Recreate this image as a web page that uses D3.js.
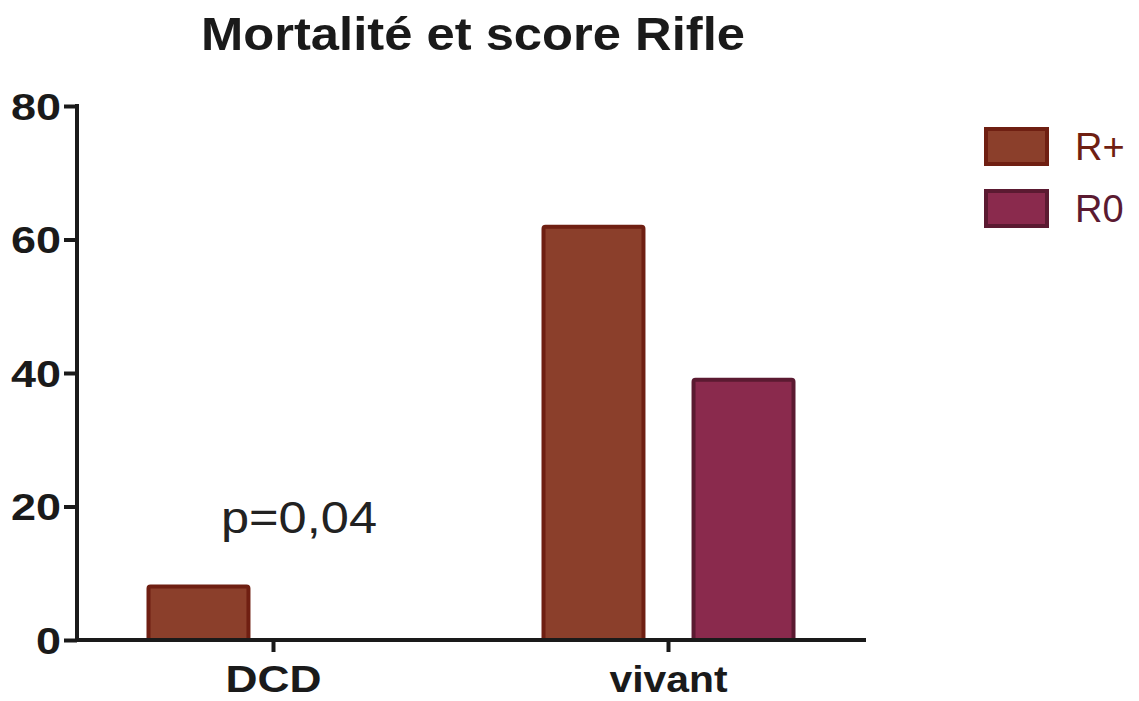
<!DOCTYPE html>
<html>
<head>
<meta charset="utf-8">
<script src="https://cdn.jsdelivr.net/npm/d3@7"></script>
<style>
  body { margin: 0; background: #fff; }
  text { font-family: "Liberation Sans", Arial, Helvetica, sans-serif; }
</style>
</head>
<body>
<svg id="chart" width="1139" height="701"></svg>
<script>
// chart values
var categories = ['DCD', 'vivant'];
var seriesNames = ['R+', 'R0'];
var valuesRplus = [8.3, 62.2];
var valuesR0 = [0, 39.3];
var yTicks = [0, 20, 40, 60, 80];

var fills = ['#8b3f2b', '#8a2a4d'];
var strokes = ['#6f1f12', '#5b1a31'];
var ink = '#1a1a1a';

var svg = d3.select('#chart');

var x = d3.scaleBand().domain(categories).range([76, 866]);
var y = d3.scaleLinear().domain([0, 80]).range([640, 106]);
var sub = d3.scaleBand().domain(seriesNames).range([-127, 127]).paddingInner(0.307).paddingOuter(0);

// the reference font is wider than Liberation, so stretch text to its measured width
function stretch(sel, perChar) {
  sel.attr('textLength', function() { return this.textContent.length * perChar; })
    .attr('lengthAdjust', 'spacingAndGlyphs');
}

svg.append('text')
  .attr('x', 201).attr('y', 50)
  .style('font-size', '47px').style('font-weight', 'bold')
  .attr('fill', ink)
  .attr('textLength', 544).attr('lengthAdjust', 'spacingAndGlyphs')
  .text('Mortalité et score Rifle');

// bars
var rows = categories.map(function(c, i) {
  return { cat: c, vals: [valuesRplus[i], valuesR0[i]] };
});

var group = svg.selectAll('g.grp').data(rows).enter().append('g')
  .attr('class', 'grp')
  .attr('transform', function(d) { return 'translate(' + (x(d.cat) + x.bandwidth() / 2) + ',0)'; });

group.selectAll('rect').data(function(d) {
  return d.vals.map(function(v, j) { return { v: v, j: j }; }).filter(function(e) { return e.v > 0; });
}).enter().append('rect')
  .attr('x', function(d) { return sub(seriesNames[d.j]) + 2; })
  .attr('width', sub.bandwidth() - 4)
  .attr('y', function(d) { return y(d.v) + 2; })
  .attr('height', function(d) { return y(0) - y(d.v) - 2; })
  .attr('rx', 2)
  .attr('fill', function(d) { return fills[d.j]; })
  .attr('stroke', function(d) { return strokes[d.j]; })
  .attr('stroke-width', 4);

// y axis
var yAxis = svg.append('g')
  .attr('transform', 'translate(77,0)')
  .call(d3.axisLeft(y).tickValues(yTicks).tickSize(13).tickPadding(3).tickSizeOuter(0));
yAxis.select('.domain').attr('stroke', ink).attr('stroke-width', 4)
  .attr('d', 'M0,' + (y(80) - 2) + 'V' + (y(0) + 2));
yAxis.selectAll('.tick line').attr('stroke', ink).attr('stroke-width', 4);
yAxis.selectAll('.tick text')
  .style('font-size', '37px').style('font-weight', 'bold')
  .attr('fill', ink).attr('dy', '0.36em')
  .call(stretch, 25);

// x axis
var xAxis = svg.append('g')
  .attr('transform', 'translate(0,640)')
  .call(d3.axisBottom(x).tickSize(12).tickPadding(14).tickSizeOuter(0));
xAxis.select('.domain').attr('stroke', ink).attr('stroke-width', 4)
  .attr('d', 'M75,0H866');
xAxis.selectAll('.tick line').attr('stroke', ink).attr('stroke-width', 4);
xAxis.selectAll('.tick text')
  .style('font-size', '37px').style('font-weight', 'bold')
  .attr('fill', ink)
  .call(stretch, 32);
xAxis.selectAll('.tick text').filter(function(d) { return d === 'vivant'; })
  .attr('textLength', 118);

// annotation
svg.append('text')
  .attr('x', 221).attr('y', 533)
  .style('font-size', '44px')
  .attr('fill', '#222')
  .attr('textLength', 156).attr('lengthAdjust', 'spacingAndGlyphs')
  .text('p=0,04');

// legend
var legend = svg.selectAll('g.leg').data(seriesNames).enter().append('g')
  .attr('class', 'leg')
  .attr('transform', function(d, i) { return 'translate(986,' + (129 + i * 62) + ')'; });
legend.append('rect')
  .attr('width', 61).attr('height', 35)
  .attr('fill', function(d, i) { return fills[i]; })
  .attr('stroke', function(d, i) { return strokes[i]; })
  .attr('stroke-width', 4);
legend.append('text')
  .attr('x', 89).attr('y', 31)
  .style('font-size', '38px')
  .attr('fill', function(d, i) { return strokes[i]; })
  .call(stretch, 29)
  .text(function(d) { return d; });
</script>
</body>
</html>
